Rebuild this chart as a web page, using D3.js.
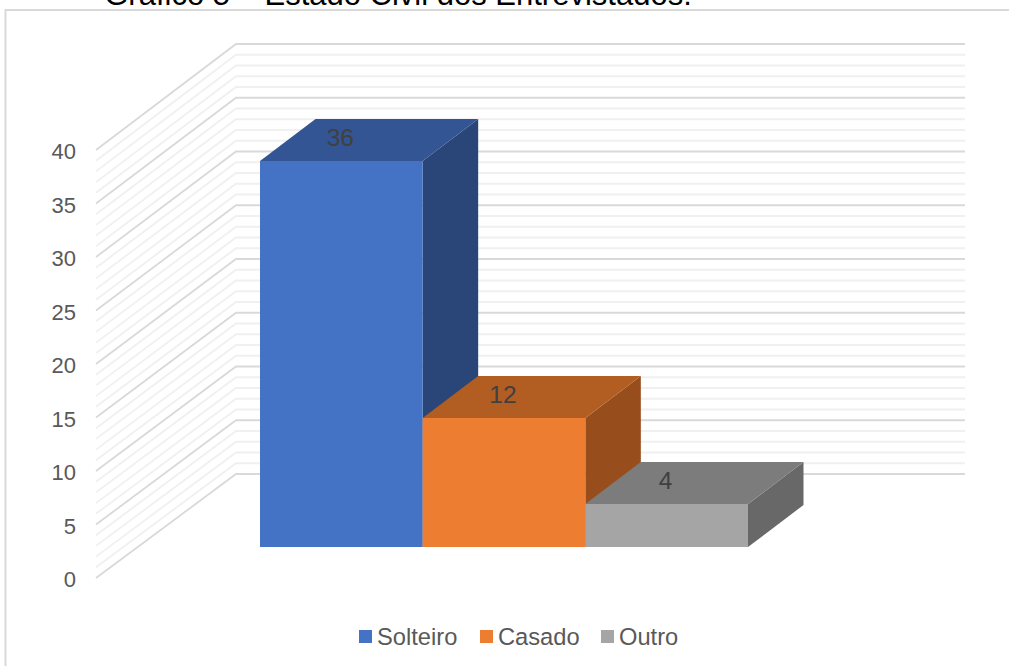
<!DOCTYPE html>
<html lang="pt">
<head>
<meta charset="utf-8">
<title>Estado Civil dos Entrevistados</title>
<script src="https://cdn.jsdelivr.net/npm/d3@7/dist/d3.min.js"></script>
<style>
html, body { margin: 0; padding: 0; background: #fff; overflow: hidden; }
svg { display: block; font-family: "Liberation Sans", Arial, sans-serif; }
</style>
</head>
<body>
<svg id="chart" width="1009" height="666"></svg>
<script>
// Marital status of the interviewees
const titleText = "Gráfico 5 – Estado Civil dos Entrevistados:";
const categories = ["Solteiro", "Casado", "Outro"];
const counts = [36, 12, 4];
const faceColors = ["#4472c4", "#ed7d31", "#a5a5a5"];
const topColors = ["#335593", "#b25d22", "#7c7c7c"];
const sideColors = ["#2a4678", "#974e1c", "#686868"];
const axisTicks = [0, 5, 10, 15, 20, 25, 30, 35, 40];
const minorTicks = d3.range(0, 41);

const svg = d3.select("#chart");

// Oblique projection: the same value scale is used for the three depth planes.
const backY = d3.scaleLinear().domain([0, 40]).range([474, 44]);
const sideFrontY = d3.scaleLinear().domain([0, 40]).range([578, 150]);
const barY = d3.scaleLinear().domain([0, 40]).rangeRound([547, 118]);
const barX = d3.scaleBand().domain(categories).range([260, 748]).padding(0);
const wallLeft = 96, wallCorner = 236, wallRight = 965;
const barDepthX = 55.5, barDepthY = -42;

// Title sits above the chart frame, running off the top of the page.
svg.append("text")
  .attr("x", 398).attr("y", 5)
  .attr("text-anchor", "middle")
  .attr("font-size", 31)
  .attr("fill", "#000")
  .text(titleText);

svg.append("path")
  .attr("d", "M5.5,666V10H1009")
  .attr("fill", "none")
  .attr("stroke", "#d9d9d9")
  .attr("stroke-width", 2);

// Walls: each gridline runs along the side wall, then across the back wall.
svg.append("g").selectAll("path")
  .data(minorTicks)
  .join("path")
  .attr("fill", "none")
  .attr("stroke", d => d % 5 === 0 ? "#d9d9d9" : "#f0f0f0")
  .attr("stroke-width", 1.8)
  .attr("d", d => d3.line()([
    [wallLeft, sideFrontY(d)],
    [wallCorner, backY(d)],
    [wallRight, backY(d)]
  ]));

// Value axis labels
svg.append("g").selectAll("text")
  .data(axisTicks)
  .join("text")
  .attr("x", 76)
  .attr("y", d => sideFrontY(d) + 9)
  .attr("text-anchor", "end")
  .attr("font-size", 22)
  .attr("fill", "#595959")
  .text(d => d);

// Boxes, drawn left to right so each one overlaps the side of its neighbour correctly
const box = svg.append("g").selectAll("g")
  .data(categories)
  .join("g");

box.append("path") // side
  .attr("fill", (d, i) => sideColors[i])
  .attr("d", (d, i) => {
    const x = barX(d) + barX.bandwidth(), y0 = barY(0), y1 = barY(counts[i]);
    return d3.line()([[x, y0], [x + barDepthX, y0 + barDepthY], [x + barDepthX, y1 + barDepthY], [x, y1]]) + "Z";
  });

box.append("path") // top
  .attr("fill", (d, i) => topColors[i])
  .attr("d", (d, i) => {
    const x = barX(d), w = barX.bandwidth(), y1 = barY(counts[i]);
    return d3.line()([[x, y1], [x + barDepthX, y1 + barDepthY], [x + w + barDepthX, y1 + barDepthY], [x + w, y1]]) + "Z";
  });

box.append("rect") // front
  .attr("x", d => barX(d))
  .attr("width", barX.bandwidth())
  .attr("y", (d, i) => barY(counts[i]))
  .attr("height", (d, i) => barY(0) - barY(counts[i]))
  .attr("fill", (d, i) => faceColors[i]);

// Value labels sit on the top face of each box
box.append("text")
  .attr("x", d => barX(d) + barX.bandwidth() / 2 - 1)
  .attr("y", (d, i) => barY(counts[i]) - 15)
  .attr("text-anchor", "middle")
  .attr("font-size", 24.5)
  .attr("fill", "#404040")
  .text((d, i) => counts[i]);

// Legend
const legendX = [359, 480, 601];
const legend = svg.append("g").selectAll("g")
  .data(categories)
  .join("g")
  .attr("transform", (d, i) => `translate(${legendX[i]},630)`);
legend.append("rect")
  .attr("width", 13).attr("height", 13)
  .attr("fill", (d, i) => faceColors[i]);
legend.append("text")
  .attr("x", 18).attr("y", 15)
  .attr("font-size", 23.7)
  .attr("fill", "#595959")
  .text(d => d);
</script>
</body>
</html>
